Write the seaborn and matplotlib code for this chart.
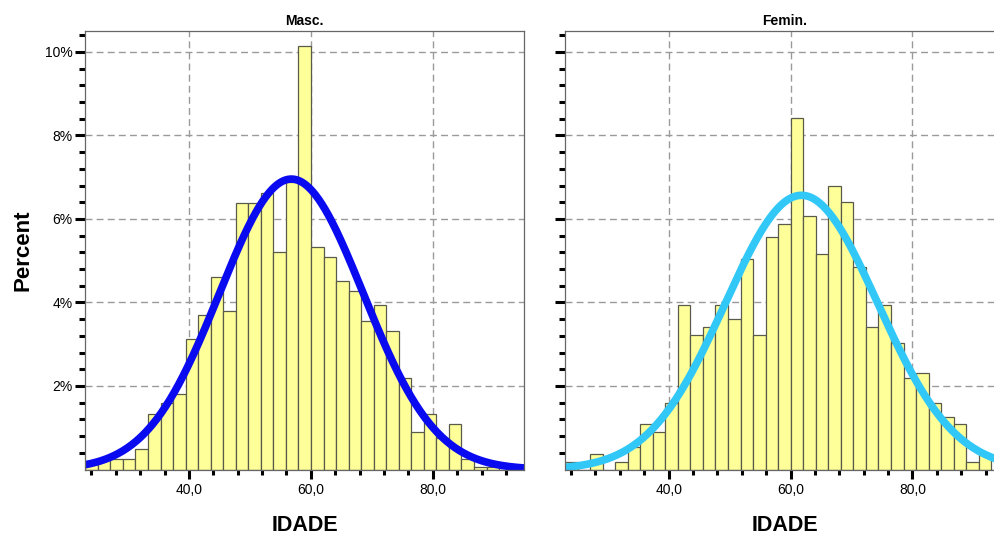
import numpy as np
import pandas as pd
import matplotlib
matplotlib.use('Agg')
import matplotlib.pyplot as plt
import seaborn as sns

# histogram bins (SPSS: 35 bins from 23 to 95)
bin_lo = 23.0
bin_hi = 95.0
n_bins = 35

# percent per bin
masc_pct = [0.20, 0.25, 0.25, 0.25, 0.50, 1.32, 1.60, 1.80, 3.13, 3.71,
            4.61, 3.79, 6.38, 6.38, 6.63, 5.22, 6.88, 10.13, 5.33, 5.09,
            4.52, 4.28, 3.56, 3.94, 3.32, 2.18, 0.90, 1.32, 0.75, 1.08,
            0.25, 0.07, 0.07, 0.0, 0.0]
fem_pct = [0.18, 0.0, 0.36, 0.0, 0.18, 0.55, 1.08, 0.89, 1.60, 3.94,
           3.23, 3.42, 3.94, 3.61, 5.03, 3.23, 5.56, 5.89, 8.41, 6.08,
           5.17, 6.80, 6.41, 4.85, 3.41, 3.95, 3.04, 2.18, 2.32, 1.60,
           1.25, 1.08, 0.18, 0.36, 0.0]

# fitted normal curves (mean, sd)
masc_mean, masc_sd = 56.8, 11.8
fem_mean, fem_sd = 61.8, 12.5

titles = ['Masc.', 'Femin.']
x_ticks = [40, 60, 80]
x_labels = ['40,0', '60,0', '80,0']
y_ticks = [2, 4, 6, 8, 10]
y_labels = ['2%', '4%', '6%', '8%', '10%']

sns.set_style('white')
plt.rcParams['font.family'] = ['Liberation Sans', 'DejaVu Sans']
plt.rcParams['text.color'] = 'black'
plt.rcParams['axes.labelcolor'] = 'black'
plt.rcParams['xtick.color'] = 'black'
plt.rcParams['ytick.color'] = 'black'

edges = np.linspace(bin_lo, bin_hi, n_bins + 1)
width = edges[1] - edges[0]
centers = edges[:-1] + width / 2

fig = plt.figure(figsize=(9.94, 5.36), dpi=100)
bot = (536 - 469.5) / 536
hgt = 438.5 / 536
ax1 = fig.add_axes([85.3 / 994, bot, 438.9 / 994, hgt])
ax2 = fig.add_axes([565 / 994, bot, 438.9 / 994, hgt])


def panel(ax, pct, mu, sd, col, title, show_y):
    df = pd.DataFrame({'IDADE': centers, 'pct': pct})
    sns.histplot(data=df, x='IDADE', weights='pct', bins=list(edges), ax=ax,
                 color='#ffff99', edgecolor='#5a5a4a', linewidth=0.9, alpha=1)
    xs = np.linspace(bin_lo, bin_hi, 400)
    ys = 100 * width * np.exp(-0.5 * ((xs - mu) / sd) ** 2) / (sd * np.sqrt(2 * np.pi))
    sns.lineplot(x=xs, y=ys, ax=ax, color=col, linewidth=5.5)
    ax.set_xlim(bin_lo, bin_hi)
    ax.set_ylim(0, 10.5)
    ax.set_xticks(x_ticks)
    ax.set_xticklabels(x_labels, fontsize=10, color='black')
    ax.set_xticks(np.arange(24, 95, 4), minor=True)
    ax.set_yticks(y_ticks)
    ax.set_yticks(np.arange(0.4, 10.5, 0.4), minor=True)
    if show_y:
        ax.set_yticklabels(y_labels, fontsize=10, color='black')
        ax.set_ylabel('Percent', fontsize=16, fontweight='bold', labelpad=8,
                      color='black')
    else:
        ax.set_yticklabels([])
        ax.set_ylabel('')
    ax.set_xlabel('IDADE', fontsize=15.5, fontweight='bold', labelpad=13, color='black')
    ax.set_title(title, fontsize=10, fontweight='bold', pad=4, color='black')
    ax.grid(True, which='major', color='#9a9a9a', linestyle=(0, (5, 3)), linewidth=1)
    ax.set_axisbelow(True)
    ax.tick_params(axis='y', which='major', direction='out', length=7.2, width=2.2,
                   color='black', pad=2, left=True)
    ax.tick_params(axis='y', which='minor', direction='out', length=4.3, width=2.2,
                   color='black', left=True)
    ax.tick_params(axis='x', which='major', direction='out', length=6.5, width=2.2,
                   color='black', pad=3, bottom=True)
    ax.tick_params(axis='x', which='minor', direction='out', length=3.6, width=2.2,
                   color='black', bottom=True)
    for s in ax.spines.values():
        s.set_color('#666666')
        s.set_linewidth(0.9)


panel(ax1, masc_pct, masc_mean, masc_sd, '#0a0af0', titles[0], True)
panel(ax2, fem_pct, fem_mean, fem_sd, '#31c8f8', titles[1], False)

fig.savefig('out.png', dpi=100)
